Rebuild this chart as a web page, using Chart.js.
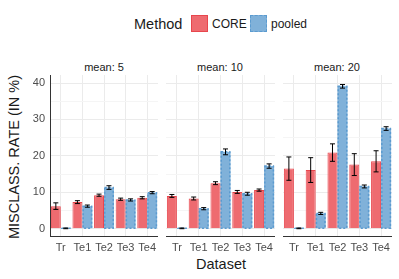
<!DOCTYPE html>
<html>
<head>
<meta charset="utf-8">
<script src="https://cdn.jsdelivr.net/npm/chart.js@4"></script>
<style>
  body { margin: 0; background: #fff; font-family: "Liberation Sans", Arial, sans-serif; }
  #wrap { position: relative; width: 399px; height: 279px; overflow: hidden; }
  canvas { position: absolute; }
  .txt { position: absolute; white-space: nowrap; color: #1a1a1a; }
  .strip { font-size: 11px; text-align: center; width: 108px; top: 61px; }
  .sw { position: absolute; width: 17px; height: 17px; box-sizing: border-box; }
</style>
</head>
<body>
<div id="wrap">
  <div class="txt" style="left:134px; top:16px; font-size:14.5px;">Method</div>
  <div class="sw" style="left:191px; top:15px; background:#EE6B70; border:1px solid #E8464D;"></div>
  <div class="txt" style="left:212px; top:17px; font-size:12px;">CORE</div>
  <div class="sw" style="left:250px; top:15px; background:#80B1D9; border:1.5px dashed #5B9BD0;"></div>
  <div class="txt" style="left:271px; top:17px; font-size:12px;">pooled</div>

  <div class="txt" style="left:14px; top:157px; font-size:14.5px; transform:translate(-50%,-50%) rotate(-90deg);">MISCLASS. RATE (IN %)</div>
  <div class="txt" style="left:221px; top:256px; font-size:14.5px; transform:translateX(-50%);">Dataset</div>

  <div class="txt strip" style="left:50px;">mean: 5</div>
  <div class="txt strip" style="left:166px;">mean: 10</div>
  <div class="txt strip" style="left:283px;">mean: 20</div>

  <canvas id="p1" width="140" height="185" style="left:18px; top:75px;"></canvas>
  <canvas id="p2" width="109" height="185" style="left:166px; top:75px;"></canvas>
  <canvas id="p3" width="109" height="185" style="left:283px; top:75px;"></canvas>
</div>
<script>
const categories = ['Tr', 'Te1', 'Te2', 'Te3', 'Te4'];
const yTicks = [0, 5, 10, 15, 20, 25, 30, 35, 40];

// mean: 5
const core5 = [6.2, 7.3, 9.2, 8.1, 8.5];
const coreErr5 = [0.9, 0.4, 0.3, 0.3, 0.3];
const pooled5 = [0.1, 6.2, 11.3, 7.9, 9.9];
const pooledErr5 = [0.1, 0.3, 0.5, 0.3, 0.3];

// mean: 10
const core10 = [9.0, 8.3, 12.5, 10.1, 10.6];
const coreErr10 = [0.4, 0.4, 0.4, 0.4, 0.3];
const pooled10 = [0.1, 5.5, 21.1, 9.6, 17.2];
const pooledErr10 = [0.1, 0.3, 0.8, 0.4, 0.6];

// mean: 20
const core20 = [16.5, 16.1, 20.9, 17.6, 18.5];
const coreErr20 = [3.2, 3.4, 2.4, 3.0, 2.9];
const pooled20 = [0.1, 4.2, 39.1, 11.6, 27.5];
const pooledErr20 = [0.1, 0.3, 0.5, 0.4, 0.5];

// dashed outlines for pooled bars + error bars
const barExtras = {
  id: 'barExtras',
  afterDatasetsDraw(chart) {
    const ctx = chart.ctx;
    const ys = chart.scales.y;
    chart.data.datasets.forEach((ds, i) => {
      if (!ds.dashColor) return;
      chart.getDatasetMeta(i).data.forEach(bar => {
        const p = bar.getProps(['x', 'y', 'base', 'width'], true);
        ctx.save();
        ctx.setLineDash([2, 2]);
        ctx.strokeStyle = ds.dashColor;
        ctx.lineWidth = 1.5;
        ctx.strokeRect(p.x - p.width / 2 + 0.75, p.y, p.width - 1.5, p.base - p.y);
        ctx.restore();
      });
    });
    chart.data.datasets.forEach((ds, i) => {
      chart.getDatasetMeta(i).data.forEach((bar, j) => {
        const x = bar.getProps(['x'], true).x;
        const v = ds.data[j], e = ds.err[j];
        const hi = ys.getPixelForValue(v + e);
        const lo = ys.getPixelForValue(Math.max(v - e, 0));
        ctx.save();
        ctx.strokeStyle = '#000';
        ctx.lineWidth = 1;
        ctx.beginPath();
        ctx.moveTo(x, hi); ctx.lineTo(x, lo);
        ctx.moveTo(x - 2.5, hi); ctx.lineTo(x + 2.5, hi);
        ctx.moveTo(x - 2.5, lo); ctx.lineTo(x + 2.5, lo);
        ctx.stroke();
        ctx.restore();
      });
    });
  }
};

function makePanel(id, core, coreErr, pooled, pooledErr, showY) {
  return new Chart(document.getElementById(id), {
    type: 'bar',
    data: {
      labels: categories,
      datasets: [
        {
          label: 'CORE', data: core, err: coreErr,
          backgroundColor: '#EE6B70', borderColor: '#E8464D', borderWidth: 1,
          categoryPercentage: 0.92, barPercentage: 1
        },
        {
          label: 'pooled', data: pooled, err: pooledErr,
          backgroundColor: '#80B1D9', borderWidth: 0, dashColor: '#5B9BD0',
          categoryPercentage: 0.92, barPercentage: 1
        }
      ]
    },
    options: {
      responsive: false,
      animation: false,
      layout: { padding: 0 },
      plugins: { legend: { display: false }, tooltip: { enabled: false } },
      scales: {
        x: {
          offset: true,
          grid: { offset: false, color: '#ebebeb', drawTicks: false },
          border: { display: true, color: '#333', width: 1 },
          ticks: {
            color: '#4d4d4d', font: { family: 'Liberation Sans', size: 11 },
            autoSkip: false, maxRotation: 0, padding: 5
          },
          afterFit: s => { s.height = 24; s.paddingLeft = 0; s.paddingRight = 0; }
        },
        y: {
          min: -2, max: 42.2,
          afterBuildTicks: s => { s.ticks = yTicks.map(v => ({ value: v })); },
          grid: {
            drawTicks: false,
            color: c => (c.tick && c.tick.value % 10 === 0) ? '#ebebeb' : '#f5f5f5'
          },
          border: { display: showY, color: '#333', width: 1 },
          ticks: {
            display: showY, padding: 5, color: '#4d4d4d',
            font: { family: 'Liberation Sans', size: 11 },
            callback: v => v % 10 === 0 ? v : ''
          },
          afterFit: s => { s.width = showY ? 32 : 0; s.paddingTop = 0; s.paddingBottom = 0; }
        }
      }
    },
    plugins: [barExtras]
  });
}

makePanel('p1', core5, coreErr5, pooled5, pooledErr5, true);
makePanel('p2', core10, coreErr10, pooled10, pooledErr10, false);
makePanel('p3', core20, coreErr20, pooled20, pooledErr20, false);
</script>
</body>
</html>
